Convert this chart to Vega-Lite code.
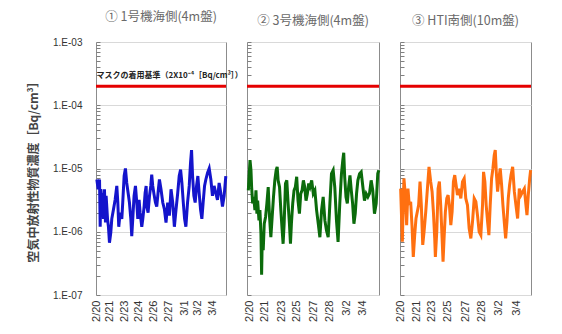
{
  "$schema": "https://vega.github.io/schema/vega-lite/v6.json",
  "padding": {"left": 27, "top": 10, "right": 5, "bottom": 5},
  "bounds": "flush",
  "spacing": 21,
  "background": "white",
  "datasets": {
    "p1": [
      {"day":0.09,"v":6.7e-6},{"day":0.23,"v":4.7e-6},{"day":0.38,"v":6.7e-6},{"day":0.45,"v":1.2e-6},{"day":0.52,"v":4.7e-6},{"day":0.63,"v":2.9e-6},{"day":0.73,"v":4.1e-6},{"day":0.8,"v":1.6e-6},{"day":0.91,"v":4.7e-6},{"day":1.02,"v":1.4e-6},
      {"day":1.09,"v":3.7e-6},{"day":1.24,"v":1.6e-6},{"day":1.34,"v":1.2e-6},{"day":1.45,"v":6.7e-7},{"day":1.59,"v":9.6e-7},{"day":1.7,"v":1.6e-6},{"day":1.88,"v":2.25e-6},{"day":2.06,"v":3.2e-6},{"day":2.24,"v":5.3e-6},{"day":2.35,"v":2.9e-6},
      {"day":2.45,"v":1.2e-6},{"day":2.6,"v":2.0e-6},{"day":2.78,"v":1.6e-6},{"day":2.88,"v":2.9e-6},{"day":3.03,"v":7.6e-6},{"day":3.17,"v":1.0e-5},{"day":3.31,"v":5.9e-6},{"day":3.46,"v":4.1e-6},{"day":3.6,"v":2.9e-6},{"day":3.75,"v":1.6e-6},
      {"day":3.85,"v":8.5e-7},{"day":3.96,"v":1.6e-6},{"day":4.1,"v":3.7e-6},{"day":4.25,"v":5.3e-6},{"day":4.39,"v":2.9e-6},{"day":4.5,"v":1.6e-6},{"day":4.64,"v":3.2e-6},{"day":4.75,"v":2.0e-6},{"day":4.93,"v":1.2e-6},{"day":5.04,"v":1.6e-6},
      {"day":5.18,"v":2.5e-6},{"day":5.29,"v":4.1e-6},{"day":5.4,"v":5.3e-6},{"day":5.47,"v":2.5e-6},{"day":5.61,"v":2.0e-6},{"day":5.76,"v":3.7e-6},{"day":5.9,"v":5.3e-6},{"day":6.0,"v":8.0e-6},{"day":6.11,"v":5.3e-6},{"day":6.25,"v":3.9e-6},
      {"day":6.4,"v":2.9e-6},{"day":6.54,"v":2.5e-6},{"day":6.72,"v":4.7e-6},{"day":6.83,"v":6.7e-6},{"day":7.0,"v":4.7e-6},{"day":7.19,"v":2.9e-6},{"day":7.37,"v":2.25e-6},{"day":7.54,"v":1.4e-6},{"day":7.72,"v":2.9e-6},{"day":7.9,"v":1.8e-6},
      {"day":8.08,"v":4.7e-6},{"day":8.26,"v":2.9e-6},{"day":8.44,"v":1.2e-6},{"day":8.62,"v":2.25e-6},{"day":8.8,"v":4.1e-6},{"day":8.96,"v":7.6e-6},{"day":9.11,"v":9.6e-6},{"day":9.25,"v":5.9e-6},{"day":9.4,"v":2.9e-6},{"day":9.54,"v":1.6e-6},
      {"day":9.68,"v":1.2e-6},{"day":9.86,"v":2.9e-6},{"day":10.04,"v":5.3e-6},{"day":10.18,"v":1.23e-5},{"day":10.29,"v":1.95e-5},{"day":10.4,"v":7.6e-6},{"day":10.54,"v":3.7e-6},{"day":10.68,"v":2.9e-6},{"day":10.83,"v":5.3e-6},{"day":10.97,"v":7.6e-6},
      {"day":11.11,"v":4.1e-6},{"day":11.26,"v":2.25e-6},{"day":11.4,"v":1.6e-6},{"day":11.54,"v":2.9e-6},{"day":11.69,"v":5.3e-6},{"day":11.83,"v":6.7e-6},{"day":12.01,"v":8.5e-6},{"day":12.19,"v":1.0e-5},{"day":12.37,"v":6.7e-6},{"day":12.54,"v":3.7e-6},
      {"day":12.72,"v":5.3e-6},{"day":12.9,"v":4.1e-6},{"day":13.08,"v":3.2e-6},{"day":13.26,"v":5.9e-6},{"day":13.44,"v":4.1e-6},{"day":13.62,"v":2.5e-6},{"day":13.8,"v":3.7e-6},{"day":13.98,"v":7.6e-6}
    ],
    "p2": [
      {"day":0.14,"v":4.5e-6},{"day":0.32,"v":1.36e-5},{"day":0.42,"v":9.4e-6},{"day":0.49,"v":5.1e-6},{"day":0.6,"v":2.8e-6},{"day":0.71,"v":3.55e-6},{"day":0.84,"v":2.2e-6},{"day":0.95,"v":4.5e-6},{"day":1.05,"v":1.93e-6},{"day":1.13,"v":3.1e-6},
      {"day":1.27,"v":1.51e-6},{"day":1.37,"v":2.2e-6},{"day":1.48,"v":9.3e-7},{"day":1.55,"v":2.1e-7},{"day":1.62,"v":8.2e-7},{"day":1.72,"v":5.1e-7},{"day":1.83,"v":1.34e-6},{"day":1.97,"v":1.71e-6},{"day":2.11,"v":2.8e-6},{"day":2.25,"v":5.1e-6},
      {"day":2.39,"v":1.71e-6},{"day":2.53,"v":8.2e-7},{"day":2.67,"v":1.71e-6},{"day":2.81,"v":3.55e-6},{"day":2.95,"v":6.5e-6},{"day":3.09,"v":9.4e-6},{"day":3.2,"v":1.06e-5},{"day":3.3,"v":6.5e-6},{"day":3.45,"v":5.1e-6},{"day":3.59,"v":2.2e-6},
      {"day":3.73,"v":1.05e-6},{"day":3.83,"v":6.45e-7},{"day":3.94,"v":1.34e-6},{"day":4.08,"v":5.8e-6},{"day":4.22,"v":6.5e-6},{"day":4.36,"v":2.8e-6},{"day":4.5,"v":1.34e-6},{"day":4.61,"v":6.45e-7},{"day":4.71,"v":1.34e-6},{"day":4.85,"v":2.8e-6},
      {"day":4.99,"v":4.5e-6},{"day":5.13,"v":5.1e-6},{"day":5.27,"v":7.4e-6},{"day":5.41,"v":3.1e-6},{"day":5.56,"v":1.93e-6},{"day":5.7,"v":4.0e-6},{"day":5.84,"v":4.5e-6},{"day":5.98,"v":6.5e-6},{"day":6.12,"v":5.1e-6},{"day":6.26,"v":3.1e-6},
      {"day":6.4,"v":4.0e-6},{"day":6.54,"v":5.8e-6},{"day":6.68,"v":5.1e-6},{"day":6.86,"v":6.5e-6},{"day":7.03,"v":4.0e-6},{"day":7.2,"v":4.5e-6},{"day":7.38,"v":2.2e-6},{"day":7.56,"v":1.34e-6},{"day":7.73,"v":8.2e-7},{"day":7.91,"v":2.2e-6},
      {"day":8.08,"v":3.55e-6},{"day":8.26,"v":1.51e-6},{"day":8.43,"v":1.05e-6},{"day":8.61,"v":8.2e-7},{"day":8.79,"v":2.8e-6},{"day":8.96,"v":8.3e-6},{"day":9.14,"v":9.4e-6},{"day":9.31,"v":5.1e-6},{"day":9.49,"v":1.51e-6},{"day":9.66,"v":6.9e-7},
      {"day":9.84,"v":2.8e-6},{"day":10.02,"v":8.3e-6},{"day":10.16,"v":1.36e-5},{"day":10.26,"v":1.77e-5},{"day":10.36,"v":7.4e-6},{"day":10.5,"v":3.55e-6},{"day":10.64,"v":2.8e-6},{"day":10.78,"v":5.1e-6},{"day":10.92,"v":7.8e-6},{"day":11.06,"v":4.5e-6},
      {"day":11.2,"v":2.8e-6},{"day":11.34,"v":1.34e-6},{"day":11.48,"v":1.93e-6},{"day":11.62,"v":4.0e-6},{"day":11.76,"v":6.5e-6},{"day":11.94,"v":8.3e-6},{"day":12.11,"v":8.85e-6},{"day":12.29,"v":5.1e-6},{"day":12.46,"v":3.1e-6},{"day":12.64,"v":4.0e-6},
      {"day":12.82,"v":3.55e-6},{"day":12.99,"v":4.0e-6},{"day":13.17,"v":6.5e-6},{"day":13.34,"v":4.5e-6},{"day":13.52,"v":1.93e-6},{"day":13.7,"v":2.8e-6},{"day":13.87,"v":8.3e-6},{"day":13.98,"v":9.4e-6}
    ],
    "p3": [
      {"day":0.07,"v":4.8e-6},{"day":0.25,"v":6.95e-7},{"day":0.42,"v":6.95e-6},{"day":0.6,"v":3.36e-6},{"day":0.71,"v":1.27e-6},{"day":0.85,"v":4.8e-6},{"day":0.99,"v":2.64e-6},{"day":1.14,"v":2.98e-6},{"day":1.28,"v":1.27e-6},{"day":1.42,"v":4.0e-7},
      {"day":1.57,"v":8.85e-7},{"day":1.71,"v":1.62e-6},{"day":1.85,"v":2.07e-6},{"day":1.99,"v":2.64e-6},{"day":2.14,"v":6.2e-6},{"day":2.28,"v":2.64e-6},{"day":2.43,"v":6.2e-7},{"day":2.57,"v":1.0e-6},{"day":2.75,"v":2.07e-6},{"day":2.93,"v":4.8e-6},
      {"day":3.1,"v":1.06e-5},{"day":3.28,"v":6.2e-6},{"day":3.43,"v":4.3e-6},{"day":3.57,"v":2.07e-6},{"day":3.71,"v":7.85e-7},{"day":3.78,"v":4.0e-7},{"day":3.93,"v":1.0e-6},{"day":4.07,"v":4.8e-6},{"day":4.21,"v":6.2e-6},{"day":4.35,"v":2.64e-6},
      {"day":4.5,"v":7.85e-7},{"day":4.6,"v":3.36e-7},{"day":4.71,"v":7.85e-7},{"day":4.85,"v":2.07e-6},{"day":5.0,"v":3.36e-6},{"day":5.14,"v":3.8e-6},{"day":5.28,"v":2.64e-6},{"day":5.43,"v":1.27e-6},{"day":5.57,"v":2.07e-6},{"day":5.71,"v":6.2e-6},
      {"day":5.85,"v":7.85e-6},{"day":6.0,"v":5.45e-6},{"day":6.14,"v":3.8e-6},{"day":6.32,"v":4.8e-6},{"day":6.5,"v":3.36e-6},{"day":6.68,"v":6.2e-6},{"day":6.86,"v":6.95e-6},{"day":7.03,"v":3.36e-6},{"day":7.21,"v":2.64e-6},{"day":7.39,"v":1.13e-6},
      {"day":7.57,"v":7.85e-7},{"day":7.75,"v":1.44e-6},{"day":7.93,"v":3.36e-6},{"day":8.11,"v":2.98e-6},{"day":8.28,"v":1.83e-6},{"day":8.46,"v":1.0e-6},{"day":8.64,"v":8.85e-7},{"day":8.82,"v":2.64e-6},{"day":8.93,"v":8.85e-6},{"day":9.07,"v":6.2e-6},
      {"day":9.21,"v":2.64e-6},{"day":9.36,"v":1.44e-6},{"day":9.5,"v":8.85e-7},{"day":9.64,"v":2.64e-6},{"day":9.79,"v":6.95e-6},{"day":9.93,"v":1.0e-5},{"day":10.07,"v":1.62e-5},{"day":10.18,"v":1.95e-5},{"day":10.29,"v":8.85e-6},{"day":10.43,"v":4.3e-6},
      {"day":10.57,"v":6.95e-6},{"day":10.71,"v":1.0e-5},{"day":10.86,"v":5.45e-6},{"day":11.0,"v":2.64e-6},{"day":11.14,"v":1.44e-6},{"day":11.29,"v":7.85e-7},{"day":11.43,"v":1.44e-6},{"day":11.57,"v":3.36e-6},{"day":11.71,"v":5.45e-6},{"day":11.86,"v":7.85e-6},
      {"day":12.04,"v":1.06e-5},{"day":12.22,"v":4.3e-6},{"day":12.39,"v":2.64e-6},{"day":12.57,"v":1.62e-6},{"day":12.75,"v":4.8e-6},{"day":12.93,"v":3.8e-6},{"day":13.11,"v":4.3e-6},{"day":13.29,"v":4.8e-6},{"day":13.46,"v":2.64e-6},{"day":13.57,"v":1.83e-6},
      {"day":13.71,"v":3.8e-6},{"day":13.86,"v":6.95e-6},{"day":13.96,"v":9.4e-6}
    ],
    "limit": [{"v": 0.0002}],
    "note": [{"day": 0.05, "v": 0.00029, "label": "マスクの着用基準（2X10⁻⁴［Bq/cm³］）"}]
  },
  "config": {
    "view": {"stroke": "#8c8c8c", "strokeWidth": 1},
    "title": {"font": "Noto Sans CJK JP", "fontSize": 12.5, "fontWeight": "normal", "color": "#6a6a6a", "offset": 14},
    "axis": {"labelFont": "Liberation Sans", "titleFont": "Noto Sans CJK JP", "labelOverlap": false}
  },
  "hconcat": [
    {
      "width": 130, "height": 253,
      "title": "① 1号機海側(4m盤)",
      "layer": [
        {
          "data": {"name": "p1"},
          "mark": {"type": "line", "color": "#1414cc", "strokeWidth": 3},
          "encoding": {
            "x": {"field": "day", "type": "quantitative",
              "scale": {"domain": [0, 14], "nice": false, "zero": false},
              "axis": {"title": null, "values": [0, 1.4, 3.05, 4.6, 6.2, 7.85, 9.5, 10.9, 12.5],
                "labelExpr": "timeFormat(time(datetime(2019,1,20)) + datum.value*86400000, '%-m/%-d')",
                "labelAngle": 270, "ticks": false, "domain": false, "grid": false,
                "labelFontSize": 11, "labelPadding": 5, "labelColor": "#333333", "labelOverlap": false, "labelFlush": false}},
            "y": {"field": "v", "type": "quantitative",
              "scale": {"type": "log", "domain": [1e-7, 1e-3], "nice": false},
              "axis": {"title": "空気中放射性物質濃度［Bq/cm³］",
                "values": [1e-7,2e-7,3e-7,4e-7,5e-7,6e-7,7e-7,8e-7,9e-7,1e-6,2e-6,3e-6,4e-6,5e-6,6e-6,7e-6,8e-6,9e-6,1e-5,2e-5,3e-5,4e-5,5e-5,6e-5,7e-5,8e-5,9e-5,1e-4,2e-4,3e-4,4e-4,5e-4,6e-4,7e-4,8e-4,9e-4,1e-3],
                "labelExpr": "abs(log(datum.value)/LN10 - round(log(datum.value)/LN10)) < 0.001 ? '1.E-0' + (-round(log(datum.value)/LN10)) : ''",
                "tickSize": -4, "tickColor": "#7f7f7f", "domain": false,
                "labelPadding": 18, "labelFontSize": 10, "labelColor": "#333333", "labelOverlap": false, "labelFlush": false,
                "titleFontSize": 12, "titleFontWeight": "bold", "titleColor": "#444444", "titlePadding": 12,
                "gridColor": "#d9d9d9",
                "gridOpacity": {"condition": {"test": "abs(log(datum.value)/LN10 - round(log(datum.value)/LN10)) < 0.001", "value": 1}, "value": 0}}}
          }
        },
        {
          "data": {"name": "limit"},
          "mark": {"type": "rule", "color": "#e50000", "strokeWidth": 3},
          "encoding": {"y": {"field": "v", "type": "quantitative"}}
        },
        {
          "data": {"name": "note"},
          "mark": {"type": "text", "align": "left", "baseline": "middle", "font": "Noto Sans CJK JP", "fontSize": 8, "fontWeight": "bold", "color": "#222222"},
          "encoding": {
            "x": {"field": "day", "type": "quantitative",
              "axis": {"title": null, "values": [0, 1.4, 3.05, 4.6, 6.2, 7.85, 9.5, 10.9, 12.5],
                "labelExpr": "timeFormat(time(datetime(2019,1,20)) + datum.value*86400000, '%-m/%-d')",
                "labelAngle": 270, "ticks": false, "domain": false, "grid": false,
                "labelFontSize": 11, "labelPadding": 5, "labelColor": "#333333", "labelOverlap": false, "labelFlush": false}},
            "y": {"field": "v", "type": "quantitative"},
            "text": {"field": "label"}
          }
        }
      ]
    },
    {
      "width": 132, "height": 253,
      "title": "② 3号機海側(4m盤)",
      "layer": [
        {
          "data": {"name": "p2"},
          "mark": {"type": "line", "color": "#0b6b0b", "strokeWidth": 3},
          "encoding": {
            "x": {"field": "day", "type": "quantitative",
              "scale": {"domain": [0, 14], "nice": false, "zero": false},
              "axis": {"title": null, "values": [0.3, 1.9, 3.7, 5.3, 7.05, 8.7, 10.6, 12.3],
                "labelExpr": "timeFormat(time(datetime(2019,1,20)) + datum.value*86400000, '%-m/%-d')",
                "labelAngle": 270, "ticks": false, "domain": false, "grid": false,
                "labelFontSize": 11, "labelPadding": 5, "labelColor": "#333333", "labelOverlap": false, "labelFlush": false}},
            "y": {"field": "v", "type": "quantitative",
              "scale": {"type": "log", "domain": [1e-7, 1e-3], "nice": false},
              "axis": {"title": null, "labels": false,
                "values": [1e-7,2e-7,3e-7,4e-7,5e-7,6e-7,7e-7,8e-7,9e-7,1e-6,2e-6,3e-6,4e-6,5e-6,6e-6,7e-6,8e-6,9e-6,1e-5,2e-5,3e-5,4e-5,5e-5,6e-5,7e-5,8e-5,9e-5,1e-4,2e-4,3e-4,4e-4,5e-4,6e-4,7e-4,8e-4,9e-4,1e-3],
                "tickSize": -4, "tickColor": "#7f7f7f", "domain": false,
                "gridColor": "#d9d9d9",
                "gridOpacity": {"condition": {"test": "abs(log(datum.value)/LN10 - round(log(datum.value)/LN10)) < 0.001", "value": 1}, "value": 0}}}
          }
        },
        {
          "data": {"name": "limit"},
          "mark": {"type": "rule", "color": "#e50000", "strokeWidth": 3},
          "encoding": {"y": {"field": "v", "type": "quantitative"}}
        }
      ]
    },
    {
      "width": 131, "height": 253,
      "title": "③ HTI南側(10m盤)",
      "layer": [
        {
          "data": {"name": "p3"},
          "mark": {"type": "line", "color": "#ff7010", "strokeWidth": 3},
          "encoding": {
            "x": {"field": "day", "type": "quantitative",
              "scale": {"domain": [0, 14], "nice": false, "zero": false},
              "axis": {"title": null, "values": [0.05, 1.75, 3.4, 5.1, 7.02, 8.75, 10.5, 12.4],
                "labelExpr": "timeFormat(time(datetime(2019,1,20)) + datum.value*86400000, '%-m/%-d')",
                "labelAngle": 270, "ticks": false, "domain": false, "grid": false,
                "labelFontSize": 11, "labelPadding": 5, "labelColor": "#333333", "labelOverlap": false, "labelFlush": false}},
            "y": {"field": "v", "type": "quantitative",
              "scale": {"type": "log", "domain": [1e-7, 1e-3], "nice": false},
              "axis": {"title": null, "labels": false,
                "values": [1e-7,2e-7,3e-7,4e-7,5e-7,6e-7,7e-7,8e-7,9e-7,1e-6,2e-6,3e-6,4e-6,5e-6,6e-6,7e-6,8e-6,9e-6,1e-5,2e-5,3e-5,4e-5,5e-5,6e-5,7e-5,8e-5,9e-5,1e-4,2e-4,3e-4,4e-4,5e-4,6e-4,7e-4,8e-4,9e-4,1e-3],
                "tickSize": -4, "tickColor": "#7f7f7f", "domain": false,
                "gridColor": "#d9d9d9",
                "gridOpacity": {"condition": {"test": "abs(log(datum.value)/LN10 - round(log(datum.value)/LN10)) < 0.001", "value": 1}, "value": 0}}}
          }
        },
        {
          "data": {"name": "limit"},
          "mark": {"type": "rule", "color": "#e50000", "strokeWidth": 3},
          "encoding": {"y": {"field": "v", "type": "quantitative"}}
        }
      ]
    }
  ]
}
